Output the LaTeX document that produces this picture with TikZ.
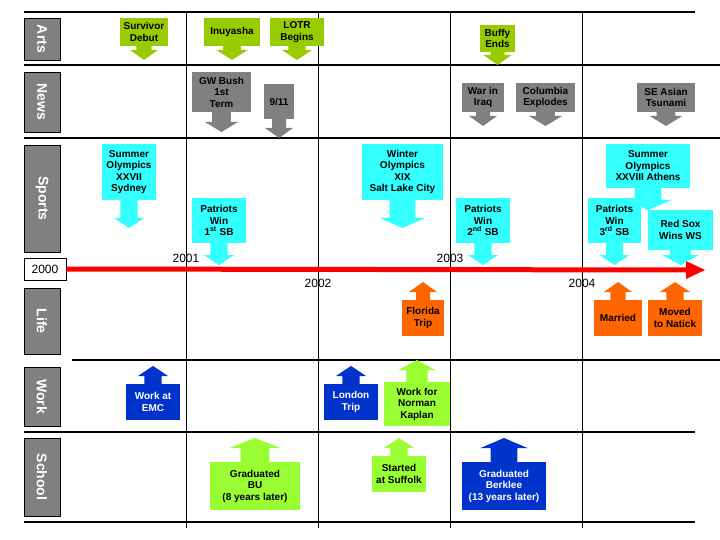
\documentclass[tikz,border=0pt]{standalone}
\usepackage{fontspec}
\setmainfont{Liberation Sans}
\definecolor{olv}{HTML}{99CC00}
\definecolor{gry}{HTML}{808080}
\definecolor{cyn}{HTML}{33FFFF}
\definecolor{org}{HTML}{FF6600}
\definecolor{blu}{HTML}{0033CC}
\definecolor{lgr}{HTML}{99FF33}
\tikzset{
 evb/.style={inner sep=0.5pt, align=center, font=\fontsize{10}{11.5}\selectfont\bfseries},
 rowl/.style={fill=gry, draw=black, line width=0.6pt, text=white, font=\fontsize{14}{15}\selectfont\bfseries, rotate=-90, inner sep=0pt},
 hl/.style={line width=1.6pt},
 vl/.style={line width=0.8pt},
 yr/.style={font=\fontsize{12}{13}\selectfont}
}
\newcommand\evt[9]{%
 \pgfmathsetmacro\evcx{(#2+#3)/2}\pgfmathsetmacro\evcy{(#4+#5)/2}%
 \pgfmathsetmacro\evw{#3-#2}\pgfmathsetmacro\evh{#5-#4}%
 \pgfmathsetmacro\evsh{max(7,0.16*\evw)}\pgfmathsetmacro\evhh{max(14,0.28*\evw)}%
 \pgfmathsetmacro\evhb{#6>#5 ? #6-10 : #6+10}%
 \fill[#7] (\evcx-\evsh,\evcy) -- (\evcx-\evsh,\evhb) -- (\evcx-\evhh,\evhb) -- (\evcx,#6) -- (\evcx+\evhh,\evhb) -- (\evcx+\evsh,\evhb) -- (\evcx+\evsh,\evcy) -- cycle;
 \node[evb, fill=#7, text=#8, minimum width=\evw pt, minimum height=\evh pt] (#1) at (\evcx,\evcy) {#9};}
\newcommand\rowlab[4]{%
 \pgfmathsetmacro\evcy{(#2+#3)/2}\pgfmathsetmacro\evh{#3-#2}%
 \node[rowl, minimum width=\evh pt, minimum height=36pt] (#1) at (42,\evcy) {#4};}
\begin{document}
\begin{tikzpicture}[x=1pt,y=-1pt]
\useasboundingbox (0,0) rectangle (720,540);
% grid
\foreach \vx in {186,318,450,582} \draw[vl] (\vx,12) -- (\vx,528);
\draw[hl] (24,12) -- (695,12);
\draw[hl] (24,65) -- (720,65);
\draw[hl] (24,138) -- (720,138);
\draw[hl] (72,360) -- (720,360);
\draw[hl] (24,432) -- (695,432);
\draw[hl] (24,522) -- (695,522);
% row labels
\rowlab{arts}{18}{60}{Arts}
\rowlab{news}{72}{132}{News}
\rowlab{sports}{145}{252}{Sports}
\rowlab{life}{288}{354}{Life}
\rowlab{work}{367}{426}{Work}
\rowlab{school}{438}{516}{School}
% timeline
\node[draw=black, line width=0.6pt, minimum width=42pt, minimum height=22pt, inner sep=0pt, yr] (y2000) at (45,269) {2000};
\coordinate (tend) at (705,270);
\draw[red, line width=5pt] (y2000.east) -- (688,270);
\fill[red] (686,261) -- (tend) -- (686,279) -- cycle;
\node[yr] (y2001) at (186,258) {2001};
\node[yr] (y2003) at (450,258) {2003};
\node[yr] (y2002) at (318,283) {2002};
\node[yr] (y2004) at (582,283) {2004};
% Arts
\evt{surv}{120}{168}{18}{46}{60}{olv}{black}{Survivor\\Debut}
\evt{inu}{204}{260}{18}{46}{60}{olv}{black}{Inuyasha}
\evt{lotr}{270}{324}{18}{46}{60}{olv}{black}{LOTR\\Begins}
\evt{buffy}{480}{515}{25}{52}{65}{olv}{black}{Buffy\\Ends}
% News
\evt{bush}{192}{251}{72}{112}{132}{gry}{black}{GW Bush\\1st\\Term}
\evt{nine}{264}{294}{84}{119}{138}{gry}{black}{9/11}
\evt{iraq}{462}{504}{83}{112}{126}{gry}{black}{War in\\Iraq}
\evt{colu}{516}{575}{83}{112}{126}{gry}{black}{Columbia\\Explodes}
\evt{tsun}{637}{695}{83}{112}{126}{gry}{black}{SE Asian\\Tsunami}
% Sports
\evt{syd}{102}{156}{144}{200}{228}{cyn}{black}{Summer\\Olympics\\XXVII\\Sydney}
\evt{sb1}{192}{246}{198}{243}{265}{cyn}{black}{Patriots\\Win\\1\textsuperscript{st} SB}
\evt{slc}{362}{443}{144}{200}{228}{cyn}{black}{Winter\\Olympics\\XIX\\Salt Lake City}
\evt{sb2}{456}{510}{198}{243}{265}{cyn}{black}{Patriots\\Win\\2\textsuperscript{nd} SB}
\evt{ath}{606}{690}{144}{188}{210}{cyn}{black}{Summer\\Olympics\\XXVIII Athens}
\evt{sb3}{588}{641}{198}{243}{265}{cyn}{black}{Patriots\\Win\\3\textsuperscript{rd} SB}
\evt{sox}{648}{713}{210}{250}{265}{cyn}{black}{Red Sox\\Wins WS}
% Life
\evt{fla}{402}{444}{300}{336}{282}{org}{black}{Florida\\Trip}
\evt{mar}{594}{642}{300}{336}{282}{org}{black}{Married}
\evt{nat}{648}{702}{300}{336}{282}{org}{black}{Moved\\to Natick}
% Work
\evt{emc}{126}{180}{384}{420}{366}{blu}{white}{Work at\\EMC}
\evt{lon}{324}{378}{384}{420}{366}{blu}{white}{London\\Trip}
\evt{nk}{384}{450}{382}{426}{360}{lgr}{black}{Work for\\Norman\\Kaplan}
% School
\evt{bu}{210}{300}{462}{510}{438}{lgr}{black}{Graduated\\BU\\(8 years later)}
\evt{suf}{372}{426}{456}{492}{438}{lgr}{black}{Started\\at Suffolk}
\evt{berk}{462}{546}{462}{510}{438}{blu}{white}{Graduated\\Berklee\\(13 years later)}
\end{tikzpicture}
\end{document}
